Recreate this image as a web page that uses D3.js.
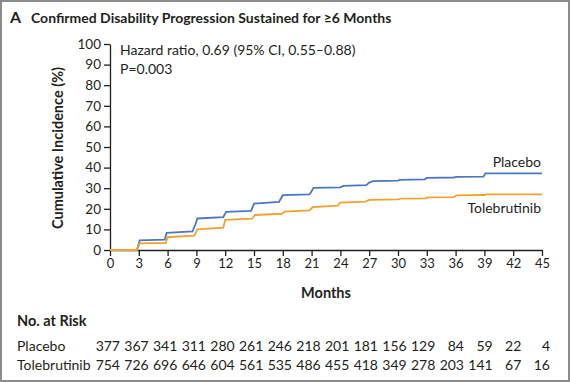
<!DOCTYPE html>
<html><head><meta charset="utf-8">
<script src="https://cdn.jsdelivr.net/npm/d3@7"></script>
<style>
html,body{margin:0;padding:0;background:#fff;}
text{font-family:Lato,"Open Sans",sans-serif;fill:#231f20;}
</style></head>
<body>
<svg id="c" width="570" height="382"></svg>
<script>
// ---- data ----
const xTicks = [0,3,6,9,12,15,18,21,24,27,30,33,36,39,42,45];
const yTicks = [0,10,20,30,40,50,60,70,80,90,100];
// [month, cumulative incidence %]
const placebo = [[0,0],[2.8,0],[3.1,4.7],[5.7,5.0],[5.9,8.3],[8.6,9.0],[8.9,12.5],[9.1,15.3],[11.8,16.0],[12.1,18.5],[14.7,19.0],[15.0,22.5],[17.6,23.3],[18.0,26.6],[20.8,27.0],[21.2,30.2],[24.0,30.4],[24.3,31.1],[26.7,31.5],[27.0,32.7],[27.4,33.4],[30.0,33.7],[30.2,34.0],[32.8,34.3],[33.0,35.0],[35.8,35.2],[36.1,35.5],[38.9,35.6],[39.1,37.2],[45,37.2]];
const tolebrutinib = [[0,0],[2.8,0],[3.1,3.2],[5.8,3.4],[6.0,6.2],[8.8,7.0],[9.1,10.0],[11.8,10.8],[12.0,14.6],[14.8,15.2],[15.1,17.0],[17.9,17.6],[18.2,18.6],[20.8,19.2],[21.1,20.8],[23.7,21.5],[24.0,23.0],[26.6,23.5],[27.0,24.3],[30.0,24.6],[30.3,24.9],[32.9,25.1],[33.1,25.5],[35.8,25.7],[36.1,26.5],[39.0,26.7],[39.2,27.0],[45,27.0]];
const seriesNames = ["Placebo","Tolebrutinib"];
const atRiskPlacebo = [377,367,341,311,280,261,246,218,201,181,156,129,84,59,22,4];
const atRiskTole = [754,726,696,646,604,561,535,486,455,418,349,278,203,141,67,16];

// ---- drawing ----
const svg = d3.select("#c");
svg.append("rect").attr("x",1).attr("y",1).attr("width",568).attr("height",380)
  .attr("fill","#fff").attr("stroke","#8c8c8c").attr("stroke-width",2);

svg.append("text").attr("x",10).attr("y",23).attr("font-size",16).attr("font-weight",700).text("A");
svg.append("text").attr("x",31).attr("y",23).attr("font-size",14).attr("font-weight",700)
  .text("Confirmed Disability Progression Sustained for \u22656 Months");

const x = d3.scaleLinear().domain([0,45]).range([110,542]);
const y = d3.scaleLinear().domain([0,100]).range([250,44]);

const gx = svg.append("g").attr("transform","translate(0,250)")
  .call(d3.axisBottom(x).tickValues(xTicks).tickSize(6).tickSizeOuter(0).tickPadding(3));
const gy = svg.append("g").attr("transform","translate(110,0)")
  .call(d3.axisLeft(y).tickValues(yTicks).tickSize(6).tickSizeOuter(0).tickPadding(3));
[gx,gy].forEach(g=>{
  g.select(".domain").attr("stroke","#231f20").attr("stroke-width",1.3);
  g.selectAll(".tick line").attr("stroke","#231f20").attr("stroke-width",1.3);
  g.selectAll(".tick text").attr("font-family","Lato,sans-serif").attr("font-size",13).attr("fill","#231f20");
});
gy.selectAll(".tick text").attr("font-size",13.5);

svg.append("text").attr("transform","translate(63,148) rotate(-90)").attr("text-anchor","middle")
  .attr("font-size",14.5).attr("font-weight",700).text("Cumulative Incidence (%)");
svg.append("text").attr("x",326).attr("y",298).attr("text-anchor","middle")
  .attr("font-size",14.5).attr("font-weight",700).text("Months");

const line = d3.line().x(d=>x(d[0])).y(d=>y(d[1]));
svg.append("path").datum(placebo).attr("d",line).attr("fill","none")
  .attr("stroke","#4a78c2").attr("stroke-width",1.8);
svg.append("path").datum(tolebrutinib).attr("d",line).attr("fill","none")
  .attr("stroke","#f0a232").attr("stroke-width",1.8);

svg.append("text").attr("x",541).attr("y",167).attr("text-anchor","end").attr("font-size",14).text(seriesNames[0]);
svg.append("text").attr("x",541).attr("y",213).attr("text-anchor","end").attr("font-size",14).text(seriesNames[1]);

svg.append("text").attr("x",120).attr("y",55).attr("font-size",14).text("Hazard ratio, 0.69 (95% CI, 0.55\u20130.88)");
svg.append("text").attr("x",120).attr("y",74).attr("font-size",14).text("P=0.003");

// number at risk table
svg.append("text").attr("x",17).attr("y",326).attr("font-size",14.5).attr("font-weight",700).text("No. at Risk");
const cols = d3.scaleLinear().domain([0,15]).range([120,550]);
const rows = [[seriesNames[0],atRiskPlacebo,351],[seriesNames[1],atRiskTole,370]];
rows.forEach(([name,vals,yy])=>{
  svg.append("text").attr("x",17).attr("y",yy).attr("font-size",14).text(name);
  svg.selectAll(null).data(vals).enter().append("text")
    .attr("x",(d,i)=>cols(i)).attr("y",yy).attr("text-anchor","end").attr("font-size",14).text(d=>d);
});
</script>
</body></html>
